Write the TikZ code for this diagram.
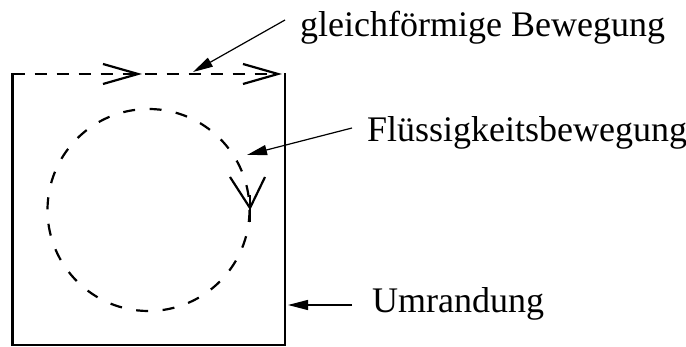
\documentclass[tikz,border=0pt]{standalone}
\usepackage{fontspec}
\setmainfont{Liberation Serif}
\usetikzlibrary{arrows.meta}
\begin{document}
\begin{tikzpicture}[x=1pt,y=-1pt,
  wall/.style={line width=2.5pt},
  flow/.style={line width=2.2pt,dash pattern=on 12pt off 10pt},
  swirl/.style={line width=2.2pt,dash pattern=on 12pt off 14.5pt},
  openhead/.style={line width=2.2pt,line join=miter},
  leader/.style={line width=1.2pt,-{Triangle[length=20pt,width=10pt]}},
  label/.style={font=\fontsize{36}{40}\selectfont,inner sep=0pt,anchor=base west}]
\useasboundingbox (0,0) rectangle (686,347);
% box
\coordinate (tl) at (12.5,73.5);
\coordinate (tr) at (285,73.5);
\coordinate (bl) at (12.5,345);
\coordinate (br) at (285,345);
\coordinate (a1) at (138,74);
\coordinate (a2) at (278,74);
\draw[wall] (tl) -- (bl) -- (br) -- (tr);
\draw[flow] (12.5,74) -- (a2);
\draw[openhead] (103,64) -- (a1) -- (103,84);
\draw[openhead] (243,64) -- (a2) -- (243,84);
% circle
\coordinate (c) at (148.5,210);
\draw[swirl] (c) circle[radius=101];
\coordinate (a3) at (250,208);
\draw[openhead] (230,177) -- (a3) -- (265,177);
\draw[line width=2.2pt] (250,195) -- (250,222);
% labels
\node[label] (t1) at (300,37) {gleichförmige Bewegung};
\node[label] (t2) at (367,142) {Flüssigkeitsbewegung};
\node[label] (t3) at (372,313) {Umrandung};
\coordinate (s1) at (285,20);
\coordinate (e1) at (193,72);
\coordinate (s2) at (352,128);
\coordinate (e2) at (247,155);
\coordinate (s3) at (352,305);
\coordinate (e3) at (288,305);
\draw[leader] (s1) -- (e1);
\draw[leader] (s2) -- (e2);
\draw[leader] (s3) -- (e3);
\end{tikzpicture}
\end{document}
